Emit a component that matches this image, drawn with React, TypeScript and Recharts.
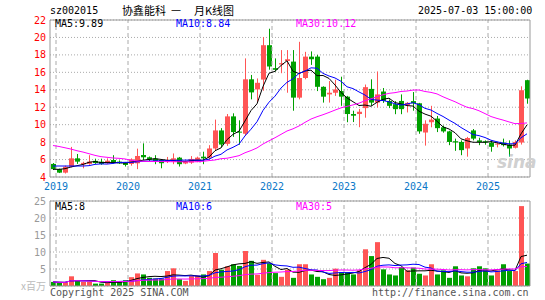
import React from 'react';
import { ComposedChart, Bar, Line, XAxis, YAxis, CartesianGrid, ReferenceLine, Cell } from 'recharts';

const months = [
  '2018-12',
  '2019-01', '2019-02', '2019-03', '2019-04', '2019-05', '2019-06', '2019-07', '2019-08', '2019-09', '2019-10', '2019-11', '2019-12',
  '2020-01', '2020-02', '2020-03', '2020-04', '2020-05', '2020-06', '2020-07', '2020-08', '2020-09', '2020-10', '2020-11', '2020-12',
  '2021-01', '2021-02', '2021-03', '2021-04', '2021-05', '2021-06', '2021-07', '2021-08', '2021-09', '2021-10', '2021-11', '2021-12',
  '2022-01', '2022-02', '2022-03', '2022-04', '2022-05', '2022-06', '2022-07', '2022-08', '2022-09', '2022-10', '2022-11', '2022-12',
  '2023-01', '2023-02', '2023-03', '2023-04', '2023-05', '2023-06', '2023-07', '2023-08', '2023-09', '2023-10', '2023-11', '2023-12',
  '2024-01', '2024-02', '2024-03', '2024-04', '2024-05', '2024-06', '2024-07', '2024-08', '2024-09', '2024-10', '2024-11', '2024-12',
  '2025-01', '2025-02', '2025-03', '2025-04', '2025-05', '2025-06', '2025-07',
];

const opens = [
  5.5,
  4.9, 4.5, 5.18, 6.14, 5.45, 5.5, 5.85, 5.76, 5.57, 5.95, 5.76, 5.64,
  5.49, 5.57, 6.52, 6.26, 6.1, 5.95, 5.77, 5.77, 6.22, 5.55, 5.65, 5.77,
  6.33, 6.22, 7.27, 9.34, 7.8, 10.95, 9.2, 8.96, 15.2, 14.04, 15.17, 19.11,
  16.48, 16.9, 17.3, 17.23, 13.1, 15.35, 17.8, 17.8, 14.34, 13.47, 13.66, 13.85,
  13.21, 11.22, 11.22, 11.9, 14.1, 12.53, 13.8, 12.72, 12.35, 12.72, 12.23, 12.7,
  12.45, 9.1, 10.28, 10.7, 9.7, 9.23, 8.1, 8.02, 7.27, 9.34, 8.2, 8.1,
  7.95, 7.75, 7.95, 7.72, 7.35, 7.95, 15.1,
];
const highs = [
  5.6,
  4.95, 5.3, 7.45, 6.64, 5.75, 6.5, 6.1, 6.1, 6.14, 6.5, 5.9, 5.7,
  6.14, 7.25, 7.86, 6.35, 6.5, 6.0, 6.3, 6.7, 6.3, 5.9, 6.4, 6.33,
  6.9, 7.65, 10.58, 9.6, 11.22, 11.3, 10.5, 17.6, 15.7, 15.3, 20.05, 21.0,
  17.6, 18.55, 18.55, 18.55, 19.5, 18.35, 18.4, 18.0, 14.4, 15.0, 15.15, 15.5,
  13.3, 11.6, 11.8, 14.6, 15.2, 16.1, 14.2, 12.9, 12.7, 13.47, 12.6, 13.74,
  12.5, 10.5, 12.16, 11.0, 9.9, 9.3, 8.4, 8.2, 8.6, 9.5, 8.5, 8.2,
  8.2, 8.0, 8.4, 8.2, 8.2, 14.4, 15.15,
];
const lows = [
  4.8,
  4.45, 4.4, 5.1, 5.5, 5.0, 5.4, 5.5, 5.4, 5.5, 5.55, 5.5, 5.2,
  5.3, 4.9, 5.95, 5.8, 5.47, 5.0, 5.6, 5.47, 5.2, 5.47, 5.5, 5.7,
  5.47, 6.0, 7.0, 7.4, 7.57, 8.6, 7.7, 8.7, 12.9, 12.6, 13.9, 16.3,
  16.1, 15.9, 13.66, 11.6, 12.9, 15.2, 16.85, 13.85, 12.53, 12.53, 13.3, 12.16,
  10.28, 10.3, 9.71, 10.8, 12.16, 11.97, 12.5, 11.9, 11.2, 11.2, 11.4, 11.6,
  8.96, 7.6, 9.7, 9.15, 9.08, 7.65, 7.0, 6.5, 6.33, 8.2, 7.65, 7.7,
  6.9, 7.4, 7.5, 6.33, 7.27, 7.72, 12.4,
];
const closes = [
  4.9,
  4.5, 5.18, 6.14, 5.76, 5.62, 5.76, 5.6, 5.5, 5.87, 5.64, 5.57, 5.38,
  6.03, 6.41, 6.26, 5.98, 5.85, 5.58, 5.95, 6.14, 5.47, 5.72, 6.07, 6.22,
  6.14, 7.27, 9.34, 7.72, 10.95, 9.15, 9.1, 15.2, 13.7, 14.8, 19.11, 16.67,
  16.29, 17.05, 17.5, 13.1, 15.35, 17.8, 17.5, 14.34, 13.21, 13.66, 14.04, 13.21,
  11.22, 11.03, 11.48, 14.3, 12.53, 13.47, 12.72, 12.16, 11.78, 11.78, 12.5, 12.45,
  9.23, 10.1, 10.58, 9.6, 9.23, 8.02, 7.95, 7.08, 8.47, 8.4, 8.0, 7.95,
  7.46, 7.83, 7.65, 7.27, 8.02, 13.95, 13.0,
];
// volume, millions of shares
const volumes = [
  1.2,
  1.0, 1.0, 2.85, 1.7, 1.2, 1.3, 0.7, 0.7, 1.0, 1.7, 1.2, 1.7,
  2.6, 3.7, 3.4, 2.4, 2.2, 2.2, 4.4, 5.2, 2.0, 1.5, 2.9, 3.1,
  3.4, 4.4, 9.7, 4.8, 5.8, 6.4, 5.9, 10.3, 7.4, 3.3, 7.7, 6.7,
  3.8, 2.7, 4.8, 2.4, 6.4, 6.4, 3.4, 2.7, 2.0, 2.4, 5.1, 4.1,
  4.1, 3.4, 4.6, 10.8, 8.8, 12.9, 4.9, 3.4, 3.1, 5.6, 4.6, 5.4,
  3.6, 3.1, 6.4, 3.4, 4.6, 2.4, 5.8, 3.1, 2.85, 5.2, 5.8, 5.2,
  3.1, 4.6, 6.4, 4.4, 4.4, 23.5, 6.6,
];

// moving-average values at the left edge (they depend on months before the window)
const ma5Head = [4.88, 4.88, 4.95, 5.15];
const ma10Head = [5.26, 5.26, 5.26, 5.26, 5.26, 5.26, 5.3, 5.45, 5.5];
const ma30Head = [
  7.61, 7.5, 7.35, 7.2, 7.01, 6.86, 6.67, 6.48, 6.33, 6.26, 6.18, 6.14, 6.07, 5.92, 5.84,
  5.8, 5.78, 5.77, 5.77, 5.76, 5.75, 5.75, 5.74, 5.74, 5.75, 5.8, 5.88, 5.95, 6.1,
];

const yearTicks = ['2019-01', '2020-01', '2021-01', '2022-01', '2023-01', '2024-01', '2025-01'];
const priceTicks = [4, 6, 8, 10, 12, 14, 16, 18, 20, 22];
const volTicks = [0, 5, 10, 15, 20, 25];

const RED = '#ff5555';
const GREEN = '#00a000';
const MONO = '"DejaVu Sans Mono", monospace';
const CJK = '"Noto Sans CJK SC", sans-serif';

function movingAvg(vals: number[], n: number, head: number[] = []) {
  return vals.map((_, i) => {
    if (i < head.length) return head[i];
    const from = Math.max(0, i - n + 1);
    const win = vals.slice(from, i + 1);
    return +(win.reduce((a, b) => a + b, 0) / win.length).toFixed(3);
  });
}

const pMa5 = movingAvg(closes, 5, ma5Head);
const pMa10 = movingAvg(closes, 10, ma10Head);
const pMa30 = movingAvg(closes, 30, ma30Head);
const vMa5 = movingAvg(volumes, 5);
const vMa10 = movingAvg(volumes, 10);
const vMa30 = movingAvg(volumes, 30);

const rows = months.map((m, i) => ({
  month: m,
  open: opens[i],
  high: highs[i],
  low: lows[i],
  close: closes[i],
  range: [lows[i], highs[i]],
  volume: volumes[i],
  up: closes[i] >= opens[i],
  ma5: pMa5[i],
  ma10: pMa10[i],
  ma30: pMa30[i],
  vma5: vMa5[i],
  vma10: vMa10[i],
  vma30: vMa30[i],
}));

const Candle = (props: any) => {
  const { x, y, width, height, payload } = props;
  const { open, close, high, low } = payload;
  const color = close >= open ? RED : GREEN;
  const top = Math.min(y, y + height);
  const h = Math.abs(height);
  const span = high - low || 1;
  const pix = (v: number) => top + ((high - v) / span) * h;
  const yO = pix(open);
  const yC = pix(close);
  const bTop = Math.min(yO, yC);
  const bH = Math.max(1, Math.abs(yO - yC));
  const cx = Math.floor(x + width / 2) + 0.5;
  return (
    <g>
      <line x1={cx} x2={cx} y1={top} y2={top + h} stroke={color} strokeWidth={1} />
      <rect x={x} y={bTop} width={width} height={bH} fill={color} />
    </g>
  );
};

const YearTick = (props: any) => {
  const { x, y, payload } = props;
  return (
    <text x={x - 3} y={y} dy="0.71em" textAnchor="middle" fill="#0a78c8" fontSize={10} fontFamily={MONO}>
      {String(payload.value).slice(0, 4)}
    </text>
  );
};

const VolTick = (props: any) => {
  const { x, y, payload } = props;
  if (payload.value === 0) {
    return (
      <text x={x} y={y} dy="0.35em" textAnchor="end" fill="#bbb" fontSize={10} fontFamily={CJK}>
        x百万
      </text>
    );
  }
  return (
    <text x={x} y={y} dy="0.35em" textAnchor="end" fill="#999" fontSize={10} fontFamily={MONO}>
      {payload.value}
    </text>
  );
};

const label = (text: string, left: number, top: number, color: string, font = MONO, size = 10) => (
  <div
    style={{
      position: 'absolute', left, top, color, fontFamily: font, fontSize: size,
      lineHeight: `${size + 2}px`, whiteSpace: 'pre',
    }}
  >
    {text}
  </div>
);

const yearLines = yearTicks.map((t) => (
  <ReferenceLine key={t} x={t} position="start" stroke="#aaa" strokeDasharray="4 3" />
));

export default function App() {
  return (
    <div style={{ position: 'absolute', left: 0, top: 0, width: 545, height: 300, background: '#fff', overflow: 'hidden' }}>
      {label('sz002015', 50, 5, '#000')}
      {label('协鑫能科', 122, 4, '#000', CJK, 11)}
      {label('—', 171, 4, '#000', '"DejaVu Sans", sans-serif', 10)}
      {label('月K线图', 194, 4, '#000', CJK, 11)}
      {label('2025-07-03 15:00:00', 418, 5, '#000')}

      <div style={{ position: 'absolute', left: 0, top: 0 }}>
        <ComposedChart width={545} height={195} data={rows} margin={{ top: 20, right: 15, bottom: 0, left: 0 }}>
          <CartesianGrid vertical={false} stroke="#aaa" strokeDasharray="1 2" />
          <XAxis
            dataKey="month"
            ticks={yearTicks}
            interval={0}
            tick={<YearTick />}
            tickLine={false}
            tickSize={4}
            tickMargin={2}
            height={18}
            axisLine={{ stroke: '#999' }}
          />
          <YAxis
            domain={[4, 22]}
            ticks={priceTicks}
            interval={0}
            width={50}
            tickLine={false}
            tickSize={2}
            tickMargin={2}
            axisLine={{ stroke: '#999' }}
            tick={{ fill: '#ff0000', fontSize: 10, fontFamily: MONO }}
            allowDataOverflow
          />
          {yearLines}
          <ReferenceLine y={22} stroke="#999" />
          <ReferenceLine x="2025-07" position="end" stroke="#999" />
          <Bar dataKey="range" shape={<Candle />} barSize={5} isAnimationActive={false} />
          <Line dataKey="ma5" stroke="#000" strokeWidth={1} dot={false} isAnimationActive={false} />
          <Line dataKey="ma10" stroke="#0000ff" strokeWidth={1} dot={false} isAnimationActive={false} />
          <Line dataKey="ma30" stroke="#ff00ff" strokeWidth={1} dot={false} isAnimationActive={false} />
        </ComposedChart>
      </div>

      {label('MA5:9.89', 55, 18, '#000')}
      {label('MA10:8.84', 176, 18, '#0000ff')}
      {label('MA30:10.12', 296, 18, '#ff00ff')}
      <div
        style={{
          position: 'absolute', left: 497, top: 152, fontFamily: '"DejaVu Sans", sans-serif',
          fontSize: 17, fontStyle: 'italic', fontWeight: 'bold', color: '#d0d0d0', lineHeight: '20px',
        }}
      >
        sina
      </div>

      <div style={{ position: 'absolute', left: 0, top: 195 }}>
        <ComposedChart width={545} height={105} data={rows} margin={{ top: 6, right: 15, bottom: 14, left: 0 }}>
          <CartesianGrid vertical={false} stroke="#aaa" strokeDasharray="1 2" />
          <XAxis dataKey="month" hide />
          <YAxis
            domain={[0, 25]}
            ticks={volTicks}
            interval={0}
            width={50}
            tickLine={false}
            tickSize={2}
            tickMargin={2}
            axisLine={{ stroke: '#999' }}
            tick={<VolTick />}
          />
          {yearLines}
          <ReferenceLine y={25} stroke="#999" />
          <ReferenceLine y={0} stroke="#999" />
          <ReferenceLine x="2025-07" position="end" stroke="#999" />
          <Bar dataKey="volume" barSize={5} isAnimationActive={false}>
            {rows.map((r) => (
              <Cell key={r.month} fill={r.up ? RED : GREEN} />
            ))}
          </Bar>
          <Line dataKey="vma5" stroke="#000" strokeWidth={1} dot={false} isAnimationActive={false} />
          <Line dataKey="vma10" stroke="#0000ff" strokeWidth={1} dot={false} isAnimationActive={false} />
          <Line dataKey="vma30" stroke="#ff00ff" strokeWidth={1} dot={false} isAnimationActive={false} />
        </ComposedChart>
      </div>

      {label('MA5:8', 55, 201, '#000')}
      {label('MA10:6', 176, 201, '#0000ff')}
      {label('MA30:5', 296, 201, '#ff00ff')}
      {label('Copyright 2025 SINA.COM', 50, 287, '#555')}
      {label('http://finance.sina.com.cn', 372, 287, '#555')}
    </div>
  );
}
